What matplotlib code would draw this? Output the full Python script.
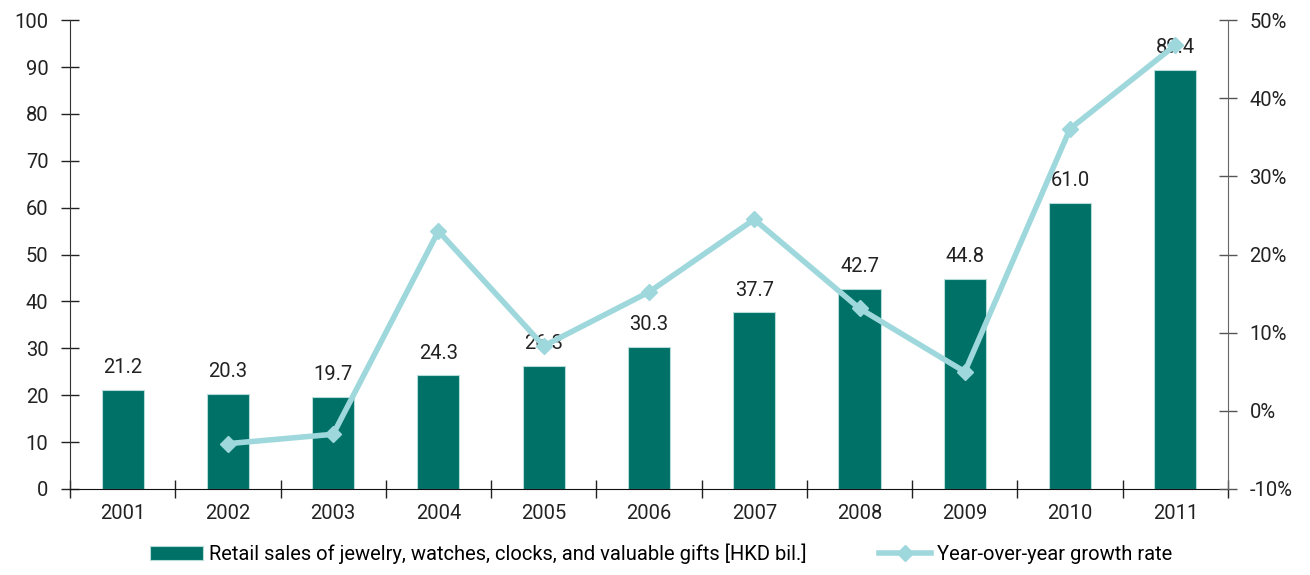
import matplotlib.pyplot as plt
import numpy as np

plt.rcParams['font.family'] = ['Roboto', 'DejaVu Sans']
plt.rcParams['font.size'] = 14.5

years = ['2001', '2002', '2003', '2004', '2005', '2006', '2007', '2008', '2009', '2010', '2011']
sales = [21.2, 20.3, 19.7, 24.3, 26.3, 30.3, 37.7, 42.7, 44.8, 61.0, 89.4]
growth = [None, -4.2, -3.0, 23.0, 8.3, 15.2, 24.5, 13.1, 5.0, 36.1, 46.8]

bar_color = '#007167'
line_color = '#9fd8dc'
text_color = '#222222'

x = np.arange(len(years))

fig = plt.figure(figsize=(13.1, 5.75), dpi=100)
ax = fig.add_axes([0.0534, 0.1496, 0.884, 0.8154])

ax.bar(x, sales, width=0.4, color=bar_color, edgecolor='#b6dcd8', linewidth=0.8,
       label='Retail sales of jewelry, watches, clocks, and valuable gifts [HKD bil.]', zorder=2)
for xi, v in zip(x, sales):
    ax.annotate(f'{v:.1f}', (xi, v), xytext=(0, 9), textcoords='offset points',
                ha='center', va='bottom', color=text_color)

ax.set_xlim(-0.5, len(years) - 0.5)
ax.set_ylim(0, 100)
ax.set_yticks(range(0, 101, 10))
# boundary ticks between years, labels centred under each bar
ax.set_xticks(np.arange(-0.5, len(years), 1.0))
ax.set_xticklabels([])
ax.set_xticks(x, minor=True)
ax.set_xticklabels(years, minor=True)
ax.tick_params(axis='x', which='major', direction='inout', length=13, width=1, color='#222222')
ax.tick_params(axis='x', which='minor', length=0, pad=11, labelcolor=text_color)
ax.tick_params(axis='y', direction='inout', length=13, width=1, color='#222222', labelcolor=text_color, pad=9)
for side in ['top', 'right']:
    ax.spines[side].set_visible(False)
ax.spines['left'].set_color('#333333')
ax.spines['bottom'].set_color('#111111')

ax2 = ax.twinx()
gx = [xi for xi, g in zip(x, growth) if g is not None]
gy = [g for g in growth if g is not None]
ax2.plot(gx, gy, color=line_color, linewidth=4, marker='D', markersize=8,
         label='Year-over-year growth rate', zorder=3)
ax2.set_ylim(-10, 50)
ax2.set_yticks(range(-10, 51, 10))
ax2.set_yticklabels([f'{t}%' for t in range(-10, 51, 10)])
ax2.tick_params(axis='y', direction='inout', length=13, width=1, color='#555555', labelcolor=text_color, pad=9)
for side in ['top', 'left', 'bottom']:
    ax2.spines[side].set_visible(False)
ax2.spines['right'].set_color('#666666')

h1, l1 = ax.get_legend_handles_labels()
h2, l2 = ax2.get_legend_handles_labels()
fig.legend(h1 + h2, l1 + l2, loc='lower center', bbox_to_anchor=(0.505, -0.012), ncol=2,
           frameon=False, columnspacing=3.6, handlelength=2.6, handletextpad=0.3)

fig.savefig('out.png', dpi=100)
